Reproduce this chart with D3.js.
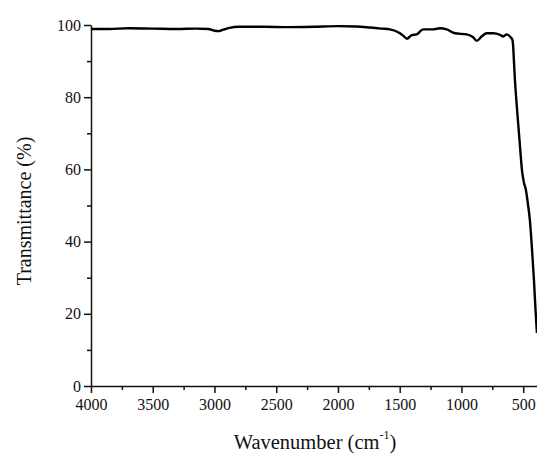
<!DOCTYPE html>
<html>
<head>
<meta charset="utf-8">
<script src="https://cdn.jsdelivr.net/npm/d3@7"></script>
<style>
  body { margin: 0; background: #fff; }
  text { font-family: "Liberation Serif", "DejaVu Serif", serif; fill: #111; }
</style>
</head>
<body>
<svg id="chart" width="537" height="456"></svg>
<script>
// Spectrum (wavenumber in cm-1, transmittance in %)
const wavenumbers = [4000, 3850, 3700, 3500, 3300, 3150, 3050, 3000, 2970, 2930, 2880, 2800, 2600, 2400, 2200, 2000, 1850, 1741, 1650, 1579, 1498, 1470, 1441, 1403, 1363, 1310, 1231, 1174, 1120, 1053, 958, 905, 877, 837, 796, 743, 689, 662, 634, 602, 588, 581, 575, 567, 555, 543, 525, 510, 495, 478, 462, 446, 430, 413, 400, 389];
const transmittance = [98.9, 98.9, 99.1, 99.0, 98.9, 99.0, 98.9, 98.4, 98.3, 98.7, 99.2, 99.5, 99.5, 99.4, 99.5, 99.7, 99.6, 99.3, 99.0, 98.8, 97.7, 97.0, 96.2, 97.2, 97.4, 98.8, 98.8, 99.1, 98.8, 97.7, 97.4, 96.6, 95.6, 96.8, 97.7, 97.7, 97.3, 96.8, 97.4, 96.6, 96.0, 94.0, 90.0, 84.8, 79.0, 73.7, 66.0, 59.8, 56.5, 54.3, 50.5, 46.0, 38.6, 29.4, 21.0, 14.7];
const xTicks = [4000, 3500, 3000, 2500, 2000, 1500, 1000, 500];
const yTicks = [0, 20, 40, 60, 80, 100];

const data = wavenumbers.map((w, i) => ({ w, t: transmittance[i] }));

const svg = d3.select("#chart");

// Plot box
const box = { left: 91, right: 536.9, top: 25, bottom: 386 };

const x = d3.scaleLinear().domain([4000, 389]).range([box.left, box.right]);
const y = d3.scaleLinear().domain([0, 100]).range([box.bottom, box.top]);

// Minor ticks first, then the major ones over them
const xMinor = d3.range(3750, 389, -500);
const yMinor = d3.range(10, 100, 20);

svg.append("g")
  .attr("transform", `translate(0,${box.bottom})`)
  .call(d3.axisBottom(x).tickValues(xMinor).tickSize(4).tickFormat(""))
  .call(g => g.select(".domain").remove())
  .selectAll("line").attr("stroke", "#111").attr("stroke-width", 1.5);

svg.append("g")
  .attr("transform", `translate(${box.left},0)`)
  .call(d3.axisLeft(y).tickValues(yMinor).tickSize(4).tickFormat(""))
  .call(g => g.select(".domain").remove())
  .selectAll("line").attr("stroke", "#111").attr("stroke-width", 1.5);

const xAxis = svg.append("g")
  .attr("transform", `translate(0,${box.bottom})`)
  .call(d3.axisBottom(x).tickValues(xTicks).tickFormat(d3.format("d"))
    .tickSize(7).tickSizeOuter(0).tickPadding(6));

const yAxis = svg.append("g")
  .attr("transform", `translate(${box.left},0)`)
  .call(d3.axisLeft(y).tickValues(yTicks).tickFormat(d3.format("d"))
    .tickSize(7).tickSizeOuter(0).tickPadding(3));

[xAxis, yAxis].forEach(g => {
  g.select(".domain").attr("stroke", "#111").attr("stroke-width", 1.5);
  g.selectAll(".tick line").attr("stroke", "#111").attr("stroke-width", 1.5);
  g.selectAll(".tick text")
    .attr("font-size", 16)
    .attr("font-family", "Liberation Serif, DejaVu Serif, serif")
    .attr("fill", "#111");
});

// Spectrum line
svg.append("path")
  .datum(data)
  .attr("fill", "none")
  .attr("stroke", "#000")
  .attr("stroke-width", 2.4)
  .attr("stroke-linejoin", "round")
  .attr("d", d3.line().x(d => x(d.w)).y(d => y(d.t)).curve(d3.curveMonotoneX));

// Axis titles
const xTitle = svg.append("text")
  .attr("x", 315)
  .attr("y", 449)
  .attr("text-anchor", "middle")
  .attr("font-size", 20.5);
xTitle.append("tspan").text("Wavenumber (cm");
xTitle.append("tspan").attr("dy", -10).attr("font-size", 12).text("-1");
xTitle.append("tspan").attr("dy", 10).text(")");

svg.append("text")
  .attr("transform", "translate(31,211) rotate(-90)")
  .attr("text-anchor", "middle")
  .attr("font-size", 20)
  .text("Transmittance (%)");
</script>
</body>
</html>
